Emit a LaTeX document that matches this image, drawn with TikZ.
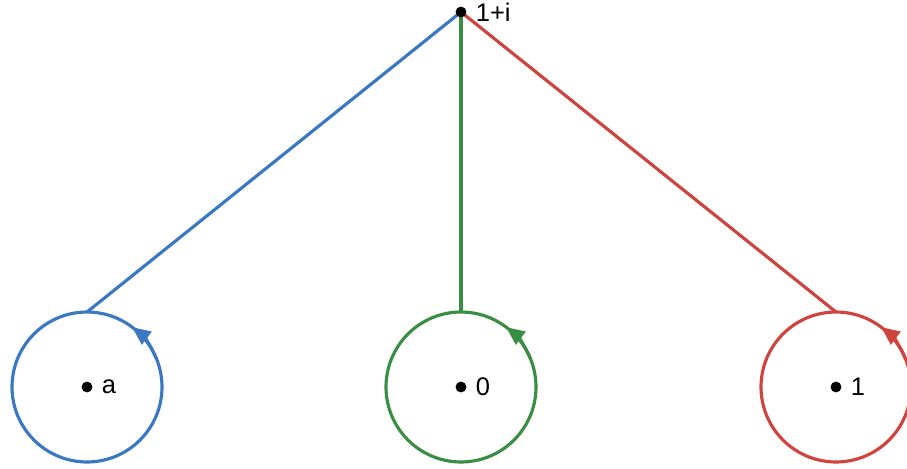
\documentclass[tikz,border=0pt]{standalone}
\usepackage{fontspec}
\setmainfont{Liberation Sans}
\definecolor{cBlue}{HTML}{3A78C1}
\definecolor{cGreen}{HTML}{3A8E43}
\definecolor{cRed}{HTML}{D0443F}
\usetikzlibrary{arrows.meta,positioning}
\tikzset{
  pt/.style={circle,fill=black,inner sep=0pt,minimum size=6.2pt},
  ring/.style={circle,draw=#1,line width=1.8pt,inner sep=0pt,outer sep=0pt,minimum size=3cm},
  link/.style={line width=1.8pt,#1},
  spin/.style={line width=1.8pt,#1,-{Triangle[length=10.5pt,width=9pt]}},
  lbl/.style={font=\fontsize{14.5}{16}\selectfont,inner sep=1pt}}

\begin{document}
\begin{tikzpicture}[x=0.02cm,y=0.02cm]
  \useasboundingbox (0,0) rectangle (907,468);
  \node[ring=cBlue] (ca) at (87,81) {};
  \node[ring=cGreen] (c0) at (461,81) {};
  \node[ring=cRed] (c1) at (836,81) {};
  \coordinate (top) at (461,456);
  \draw[link=cBlue] (top)--(ca.north);
  \draw[link=cGreen] (top)--(c0.north);
  \draw[link=cRed] (top)--(c1.north);
  \draw[spin=cBlue] (ca.22) arc[start angle=22,end angle=53,radius=1.5cm];
  \draw[spin=cGreen] (c0.22) arc[start angle=22,end angle=53,radius=1.5cm];
  \draw[spin=cRed] (c1.22) arc[start angle=22,end angle=53,radius=1.5cm];
  \node[pt] (ptop) at (top) {};
  \node[pt] (pa) at (ca) {};
  \node[pt] (p0) at (c0) {};
  \node[pt] (p1) at (c1) {};
  \node[lbl,right=4pt of ptop] {1+i};
  \node[lbl,right=4pt of pa] {a};
  \node[lbl,right=4pt of p0] {0};
  \node[lbl,right=4pt of p1] {1};
\end{tikzpicture}
\end{document}
